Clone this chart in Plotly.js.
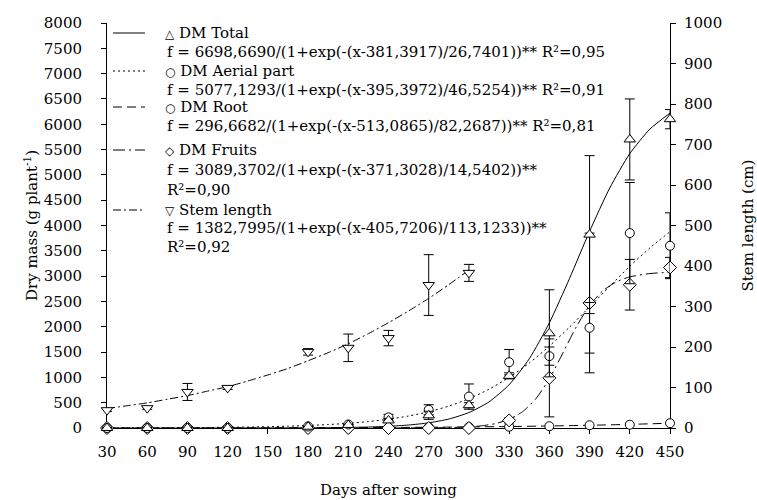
<!DOCTYPE html>
<html>
<head>
<meta charset="utf-8">
<script src="https://cdn.plot.ly/plotly-3.0.1.min.js"></script>
<style>html,body{margin:0;padding:0;background:#fff;}#chart{width:757px;height:500px;}</style>
</head>
<body>
<div id="chart"></div>
<script>
// ---- observed points (days after sowing) ----
const days = [30, 60, 90, 120, 180, 210, 240, 270, 300, 330, 360, 390, 420, 450];
const dmTotal = [0, 0, 0, 0, 25, 60, 150, 250, 450, 1030, 1870, 3820, 5700, 6100];
const dmTotalErr = [null, null, null, null, null, null, 40, 80, 50, 60, 860, 1560, 800, 190];
const dmAerial = [0, 0, 0, 0, 30, 70, 210, 360, 620, 1300, 1420, 1980, 3850, 3600];
const dmAerialErr = [null, null, null, null, null, null, 60, 100, 250, 250, 180, 500, 1000, 650];
const dmRoot = [0, 0, 0, 0, 5, 5, 10, 15, 20, 25, 35, 55, 65, 95];
const dmFruits = [0, 0, 0, 0, 0, 0, 0, 0, 0, 150, 990, 2470, 2830, 3170];
const dmFruitsErr = [null, null, null, null, null, null, null, null, null, 50, 770, 1380, 500, 200];
const stemDays = [30, 60, 90, 120, 180, 210, 240, 270, 300];
const stemLen = [44, 49, 89, 99, 188, 198, 222, 353, 383];
const stemErr = [3, 3, 21, 4, 8, 34, 19, 75, 21];

// ---- fitted curves ----
const fitDays = [30, 45, 60, 75, 90, 105, 120, 135, 150, 165, 180, 195, 210, 225, 240, 255, 270, 285, 300, 315, 330, 345, 360, 375, 390, 405, 420, 435, 450];
const fitTotal = [0, 0, 0, 0, 0, 0, 0, 1, 1, 2, 4, 6, 11, 19, 34, 59, 102, 177, 305, 516, 855, 1367, 2077, 2951, 3884, 4739, 5420, 5904, 6221];
const fitAerial = [2, 3, 4, 5, 7, 10, 14, 19, 26, 36, 49, 68, 93, 127, 174, 237, 321, 433, 579, 766, 1000, 1284, 1617, 1991, 2392, 2799, 3195, 3558, 3878];
const rootDays = [30, 60, 90, 120, 150, 180, 210, 240, 270, 300, 330, 360, 390, 420, 450];
const fitRoot = [1, 1, 2, 2, 4, 5, 7, 10, 15, 21, 29, 40, 54, 72, 94];
const fruitDays = [240, 270, 285, 300, 310, 320, 330, 340, 350, 360, 370, 380, 390, 400, 410, 420, 435, 450];
const fitFruits = [0, 3, 8, 23, 45, 88, 171, 322, 580, 973, 1476, 1994, 2420, 2712, 2888, 2985, 3051, 3076];
const stemFitDays = [30, 45, 60, 75, 90, 105, 120, 135, 150, 165, 180, 195, 210, 225, 240, 255, 270, 285, 300];
const fitStem = [48, 55, 62, 71, 80, 91, 102, 116, 131, 147, 166, 186, 208, 233, 260, 289, 320, 354, 390];

// ---- legend texts ----
const seriesNames = ['DM Total', 'DM Aerial part', 'DM Root', 'DM Fruits', 'Stem length'];
const seriesGlyphs = ['\u25B3', '\u25CB', '\u25CB', '\u25C7', '\u25BD'];
const formulas = [
  ['f = 6698,6690/(1+exp(-(x-381,3917)/26,7401))** R\u00B2=0,95'],
  ['f = 5077,1293/(1+exp(-(x-395,3972)/46,5254))** R\u00B2=0,91'],
  ['f = 296,6682/(1+exp(-(x-513,0865)/82,2687))** R\u00B2=0,81'],
  ['f = 3089,3702/(1+exp(-(x-371,3028)/14,5402))**', 'R\u00B2=0,90'],
  ['f = 1382,7995/(1+exp(-(x-405,7206)/113,1233))**', 'R\u00B2=0,92']
];
const xTitle = 'Days after sowing';
const yTitle = 'Dry mass (g plant<sup>-1</sup>)';
const y2Title = 'Stem length (cm)';

// ---- styling ----
const FONT = 'DejaVu Serif, Liberation Serif, serif';
const dashes = ['solid', '2px,3px', '9px,5px', '12px,4px,2px,4px', '8px,3px,2px,3px'];
const L = 107, R = 670, T = 23, B = 428;
const px2x = p => (p - L) / (R - L);
const px2y = p => (B - p) / (B - T);

function curve(x, y, dash, yaxis) {
  return {x: x, y: y, type: 'scatter', mode: 'lines', yaxis: yaxis || 'y',
    line: {color: 'black', width: 1, dash: dash, shape: 'spline', smoothing: 0.6},
    hoverinfo: 'skip', showlegend: false, cliponaxis: false};
}
function pts(x, y, err, symbol, size, yaxis) {
  const t = {x: x, y: y, type: 'scatter', mode: 'markers', yaxis: yaxis || 'y',
    marker: {symbol: symbol, size: size, color: 'white', line: {color: 'black', width: 1}},
    hoverinfo: 'skip', showlegend: false, cliponaxis: false};
  if (err) t.error_y = {type: 'data', array: err, visible: true, color: 'black', thickness: 1, width: 5};
  return t;
}

const data = [
  curve(rootDays, fitRoot, dashes[2]),
  curve(fruitDays, fitFruits, dashes[3]),
  curve(fitDays, fitAerial, dashes[1]),
  curve(fitDays, fitTotal, dashes[0]),
  pts(days, dmRoot, null, 'circle', 9),
  pts(days, dmFruits, dmFruitsErr, 'diamond', 10),
  pts(days, dmAerial, dmAerialErr, 'circle', 9),
  pts(days, dmTotal, dmTotalErr, 'triangle-up', 10),
  curve(stemFitDays, fitStem, dashes[4], 'y2'),
  pts(stemDays, stemLen, stemErr, 'triangle-down', 10, 'y2')
];

// legend rows (pixel y positions)
const nameRowsY = [33, 71, 107, 150, 210];
const formulaRowsY = [[52], [90], [126], [170, 190], [228, 247]];
const annotations = [];
const shapes = [];
seriesNames.forEach((nm, i) => {
  annotations.push({xref: 'paper', yref: 'paper', x: px2x(163), y: px2y(nameRowsY[i]),
    xanchor: 'left', yanchor: 'middle', showarrow: false,
    text: '<span style="font-family:DejaVu Sans;font-size:12px">' + seriesGlyphs[i] + '</span> ' + nm,
    font: {family: FONT, size: 15, color: 'black'}});
  formulas[i].forEach((f, j) => {
    annotations.push({xref: 'paper', yref: 'paper', x: px2x(165), y: px2y(formulaRowsY[i][j]),
      xanchor: 'left', yanchor: 'middle', showarrow: false, text: f,
      font: {family: FONT, size: 15, color: 'black'}});
  });
  shapes.push({type: 'line', xref: 'paper', yref: 'paper',
    x0: px2x(113), x1: px2x(145), y0: px2y(nameRowsY[i]), y1: px2y(nameRowsY[i]),
    line: {color: 'black', width: 1, dash: dashes[i]}});
});

const axisCommon = {showgrid: false, zeroline: false, showline: true, linecolor: 'black', linewidth: 1,
  ticks: 'outside', ticklen: 5, tickwidth: 1, tickcolor: 'black',
  tickfont: {family: FONT, size: 15, color: 'black'}, layer: 'below traces'};

const layout = {
  width: 757, height: 500,
  margin: {l: L, r: 757 - R, t: T, b: 500 - B, pad: 0},
  paper_bgcolor: 'white', plot_bgcolor: 'white',
  showlegend: false, hovermode: false,
  font: {family: FONT, size: 15, color: 'black'},
  xaxis: Object.assign({}, axisCommon, {range: [30, 450], tick0: 30, dtick: 30,
    ticklabelstandoff: 5,
    title: {text: xTitle, font: {family: FONT, size: 15, color: 'black'}, standoff: 24}}),
  yaxis: Object.assign({}, axisCommon, {range: [0, 8000], dtick: 500, ticklabelstandoff: 16,
    title: {text: yTitle, font: {family: FONT, size: 15, color: 'black'}, standoff: 2}}),
  yaxis2: Object.assign({}, axisCommon, {range: [0, 1000], dtick: 100, overlaying: 'y', side: 'right',
    ticklabelstandoff: 5,
    title: {text: y2Title, font: {family: FONT, size: 15, color: 'black'}, standoff: 22}}),
  annotations: annotations,
  shapes: shapes
};

Plotly.newPlot('chart', data, layout, {staticPlot: true, displayModeBar: false});
</script>
</body>
</html>
